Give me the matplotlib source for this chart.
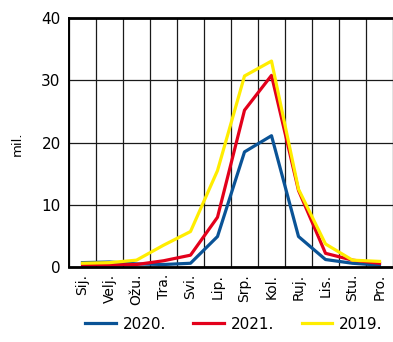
import matplotlib.pyplot as plt
import numpy as np

months = ['Sij.', 'Velj.', 'Ožu.', 'Tra.', 'Svi.', 'Lip.', 'Srp.', 'Kol.', 'Ruj.', 'Lis.', 'Stu.', 'Pro.']
v2020 = [0.7, 0.8, 0.5, 0.4, 0.6, 4.9, 18.5, 21.1, 4.9, 1.2, 0.6, 0.3]
v2021 = [0.3, 0.3, 0.4, 1.0, 1.9, 8.0, 25.2, 30.8, 12.3, 2.2, 1.1, 0.6]
v2019 = [0.6, 0.7, 1.1, 3.5, 5.7, 15.5, 30.7, 33.1, 12.5, 3.7, 1.1, 0.9]

fig = plt.figure(figsize=(3.93, 3.42), dpi=100)
ax = fig.add_axes([0.1756, 0.2193, 0.8244, 0.7277])

x = np.arange(len(months))
ax.plot(x, v2020, color='#0a5396', lw=2.3, label='2020.')
ax.plot(x, v2021, color='#e3001b', lw=2.3, label='2021.')
ax.plot(x, v2019, color='#ffed00', lw=2.3, label='2019.')

ax.set_xlim(-0.5, 11.5)
ax.set_ylim(0, 40)
ax.set_xticks(x)
ax.set_xticklabels(months, rotation=90, fontsize=10)
ax.set_xticks(np.arange(-0.5, 12, 1), minor=True)
ax.set_yticks([0, 10, 20, 30, 40])
ax.tick_params(axis='y', labelsize=11, length=0, pad=6)
ax.tick_params(axis='x', which='both', length=0, pad=5)
ax.grid(True, which='minor', axis='x', color='#1a1a1a', lw=0.9)
ax.grid(True, which='major', axis='y', color='#1a1a1a', lw=0.9)
ax.set_axisbelow(True)

for s in ['top', 'bottom']:
    ax.spines[s].set_linewidth(2)
ax.spines['left'].set_linewidth(1.4)
ax.spines['right'].set_visible(False)

fig.text(0.045, 0.58, 'mil.', rotation=90, fontsize=9.5, ha='center', va='center')

fig.legend(loc='lower center', ncol=3, frameon=False, fontsize=11,
           handlelength=2.0, handletextpad=0.45, columnspacing=1.8,
           bbox_to_anchor=(0.595, -0.01))

plt.savefig('out.png', dpi=100)
